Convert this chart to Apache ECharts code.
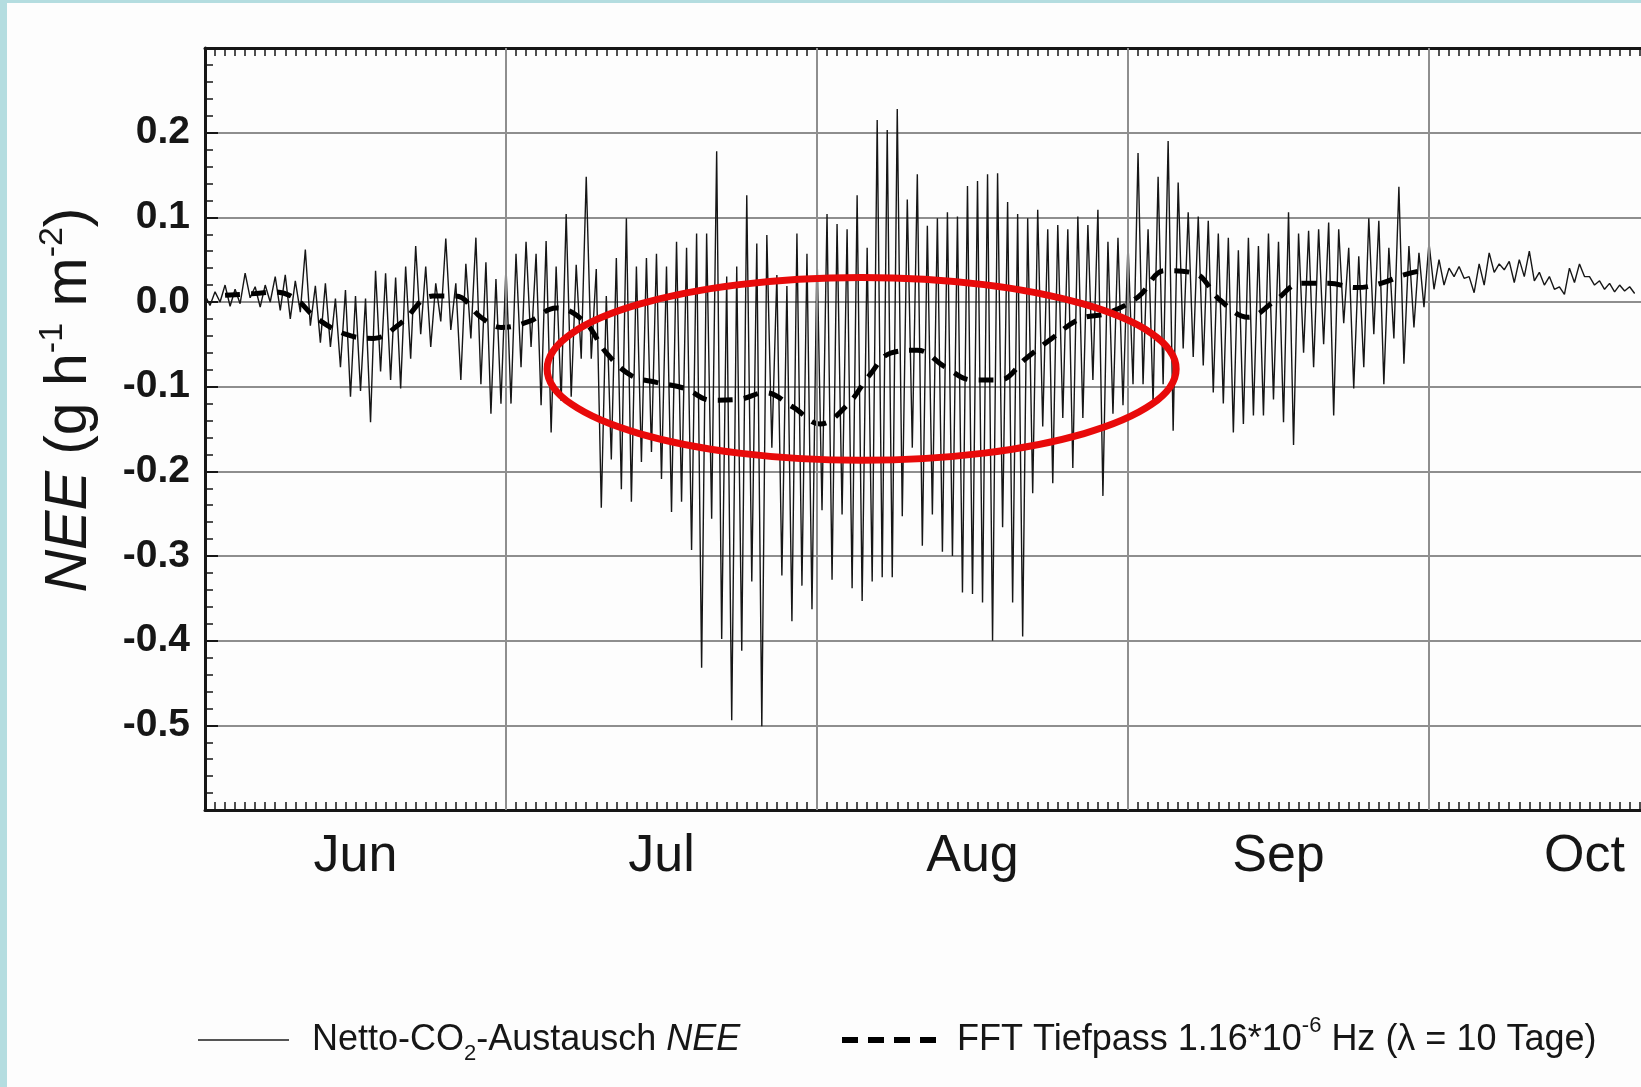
<!DOCTYPE html>
<html><head><meta charset="utf-8">
<script src="https://cdn.jsdelivr.net/npm/echarts@6/dist/echarts.min.js"></script>
<style>
html,body{margin:0;padding:0;width:1641px;height:1087px;overflow:hidden;background:#b4dde0;}
#chart{position:absolute;left:7px;top:3px;width:1634px;height:1084px;background:#fdfdfd;}
</style></head><body><div id="chart"></div>
<script>
// ---- axis categories / tick labels ----
const months = ['Jun', 'Jul', 'Aug', 'Sep', 'Oct'];
const monthStartDays = [0, 30, 61, 92, 122, 153];          // days since 1 June
const yTickValues = [0.2, 0.1, 0.0, -0.1, -0.2, -0.3, -0.4, -0.5];
const yTickLabels = ['0.2', '0.1', '0.0', '-0.1', '-0.2', '-0.3', '-0.4', '-0.5'];

// ---- NEE (g h-1 m-2): nightly maximum (start of day) and midday minimum, day 0 = 1 June ----
const neeNight = [
  0.008, 0.012, 0.020, 0.015, 0.034, 0.018, 0.020, 0.030, 0.032, 0.025,
  0.062, 0.019, 0.022, 0.004, 0.014, 0.007, 0.004, 0.037, 0.034, 0.029,
  0.042, 0.066, 0.042, 0.022, 0.075, 0.022, 0.045, 0.076, 0.047, 0.027,
  0.042, 0.057, 0.071, 0.057, 0.072, 0.042, 0.104, 0.044, 0.148, 0.039,
  0.007, 0.052, 0.099, 0.042, 0.052, 0.057, 0.042, 0.071, 0.064, 0.081,
  0.081, 0.178, 0.030, 0.042, 0.126, 0.069, 0.079, 0.032, 0.019, 0.081,
  0.057, 0.060, 0.104, 0.092, 0.086, 0.126, 0.064, 0.215, 0.203, 0.228,
  0.121, 0.151, 0.090, 0.099, 0.106, 0.101, 0.137, 0.143, 0.151, 0.152,
  0.118, 0.104, 0.099, 0.109, 0.086, 0.091, 0.086, 0.101, 0.091, 0.109,
  0.071, 0.076, 0.069, 0.176, 0.086, 0.148, 0.190, 0.141, 0.106, 0.101,
  0.096, 0.081, 0.076, 0.061, 0.076, 0.066, 0.081, 0.071, 0.106, 0.081,
  0.084, 0.086, 0.094, 0.086, 0.064, 0.054, 0.099, 0.096, 0.064, 0.136,
  0.066, 0.058, 0.070, 0.050, 0.040, 0.042, 0.030, 0.045, 0.058, 0.045,
  0.048, 0.050, 0.060, 0.035, 0.030, 0.018, 0.040, 0.045, 0.030, 0.025,
  0.022, 0.020, 0.018
];
const neeDay = [
  -0.004, 0.000, -0.005, -0.002, 0.005, -0.006, 0.000, -0.010, -0.020, -0.012,
  -0.028, -0.048, -0.053, -0.077, -0.112, -0.105, -0.142, -0.082, -0.092, -0.102,
  -0.067, -0.038, -0.053, -0.023, -0.033, -0.092, -0.043, -0.097, -0.132, -0.120,
  -0.120, -0.077, -0.053, -0.122, -0.154, -0.117, -0.112, -0.067, -0.067, -0.243,
  -0.186, -0.221, -0.236, -0.189, -0.177, -0.209, -0.248, -0.236, -0.293, -0.432,
  -0.256, -0.398, -0.494, -0.412, -0.330, -0.501, -0.172, -0.323, -0.377, -0.335,
  -0.363, -0.246, -0.328, -0.251, -0.338, -0.353, -0.330, -0.325, -0.325, -0.253,
  -0.172, -0.288, -0.251, -0.295, -0.300, -0.343, -0.345, -0.355, -0.400, -0.266,
  -0.355, -0.395, -0.226, -0.147, -0.214, -0.137, -0.196, -0.137, -0.092, -0.229,
  -0.132, -0.122, -0.097, -0.097, -0.120, -0.097, -0.152, -0.055, -0.065, -0.075,
  -0.107, -0.120, -0.154, -0.144, -0.134, -0.134, -0.115, -0.142, -0.169, -0.060,
  -0.077, -0.050, -0.134, -0.025, -0.102, -0.077, -0.038, -0.097, -0.043, -0.073,
  -0.030, -0.006, 0.015, 0.020, 0.030, 0.028, 0.011, 0.020, 0.035, 0.038,
  0.023, 0.030, 0.025, 0.020, 0.015, 0.009, 0.023, 0.030, 0.020, 0.015,
  0.012, 0.013, 0.010
];

// ---- FFT low-pass (lambda = 10 days) ----
const fftDays = [2, 5, 7, 9, 11, 14, 16.8, 19.5, 22.7, 25, 27.5, 29.5, 32.3, 35, 37.8, 40, 42.5, 45, 47.8,
  50.5, 53.2, 55.8, 58.6, 61.3, 64, 66.2, 68.4, 71, 73.8, 76.5, 79.2, 81.8, 84.4, 87.2, 90, 93, 95.7,
  98.6, 101.2, 104, 106.5, 109.3, 112, 114.8, 117.2, 119.5, 122];
const fftValues = [0.008, 0.010, 0.012, 0.004, -0.018, -0.038, -0.043, -0.025, 0.007, 0.007, -0.018, -0.030,
  -0.023, -0.007, -0.023, -0.060, -0.087, -0.095, -0.102, -0.116, -0.115, -0.107, -0.124, -0.144, -0.122,
  -0.087, -0.060, -0.057, -0.077, -0.092, -0.092, -0.067, -0.043, -0.020, -0.013, 0.006, 0.037, 0.034,
  0.002, -0.018, 0.000, 0.022, 0.022, 0.017, 0.022, 0.032, 0.039];

// ---- red annotation ellipse (data coordinates) ----
const ellipseCenter = [65.45, -0.079];
const ellipseRadius = [31.35, 0.108];

// ---- build tables ----
const neeData = [];
for (let d = 0; d < neeNight.length; d++) {
  neeData.push([d, neeNight[d]]);
  neeData.push([d + 0.5, neeDay[d]]);
}
const fftData = fftDays.map((d, i) => [d, fftValues[i]]);
const monthMids = months.map((m, i) => (monthStartDays[i] + monthStartDays[i + 1]) / 2);
const innerMonthStarts = monthStartDays.slice(1, -1);

const NAME1 = 'Netto-CO2-Austausch NEE';
const NAME2 = 'FFT Tiefpass 1.16*10-6 Hz (λ = 10 Tage)';
const FONT = 'Liberation Sans, Arial, sans-serif';
const INK = '#161616';
const GRID = '#8e8e8e';
const HIDDEN_SYMBOL = {color: 'rgba(0,0,0,0)', borderColor: 'rgba(0,0,0,0)', borderWidth: 0, opacity: 0};

const chart = echarts.init(document.getElementById('chart'), null, {renderer: 'canvas'});

const commonX = {type: 'value', min: 0, max: 153, gridIndex: 0};

const option = {
  animation: false,
  backgroundColor: '#fdfdfd',
  textStyle: {fontFamily: FONT},
  grid: {left: 198, top: 45, right: -99, bottom: 277, containLabel: false, outerBoundsMode: 'none'},
  xAxis: [
    Object.assign({}, commonX, {
      position: 'bottom',
      axisLine: {show: true, onZero: false, lineStyle: {color: INK, width: 3}},
      axisTick: {show: true, inside: true, length: 15, customValues: innerMonthStarts, lineStyle: {color: INK, width: 2}},
      axisLabel: {show: true, customValues: monthMids, margin: 21, fontSize: 52, color: INK, fontFamily: FONT,
        formatter: v => { const i = monthMids.findIndex(m => Math.abs(m - v) < 1e-6); return i >= 0 ? months[i] : ''; }},
      splitLine: {show: false}
    }),
    Object.assign({}, commonX, {
      position: 'bottom', interval: 1,
      axisLine: {show: false, onZero: false},
      axisTick: {show: true, inside: true, length: 8, lineStyle: {color: INK, width: 1.5}},
      axisLabel: {show: false}, splitLine: {show: false}
    }),
    Object.assign({}, commonX, {
      position: 'top', interval: 1,
      axisLine: {show: true, onZero: false, lineStyle: {color: INK, width: 3}},
      axisTick: {show: true, inside: true, length: 8, lineStyle: {color: INK, width: 1.5}},
      axisLabel: {show: false}, splitLine: {show: false}
    })
  ],
  yAxis: [{
    type: 'value', min: -0.6, max: 0.3, interval: 0.1, position: 'left',
    axisLine: {show: true, onZero: false, lineStyle: {color: INK, width: 3}},
    axisTick: {show: true, inside: true, length: 13, lineStyle: {color: INK, width: 2}},
    minorTick: {show: true, splitNumber: 5, length: 8, lineStyle: {color: INK, width: 1.5}},
    axisLabel: {margin: 15, fontSize: 39, fontWeight: 'bold', color: INK, fontFamily: FONT,
      formatter: v => { const i = yTickValues.findIndex(t => Math.abs(t - v) < 1e-6); return i >= 0 ? yTickLabels[i] : ''; }},
    splitLine: {show: true, lineStyle: {color: GRID, width: 2}},
    name: '{it|NEE} (g h{sup|-1} m{sup|-2})',
    nameLocation: 'middle', nameGap: 101, nameRotate: 90,
    nameTextStyle: {
      fontSize: 59, color: INK, fontFamily: FONT, lineHeight: 68, padding: [0, 0, 0, 58],
      rich: {
        it: {fontStyle: 'italic', fontSize: 59, color: INK, fontFamily: FONT, lineHeight: 68},
        sup: {fontSize: 34, color: INK, fontFamily: FONT, lineHeight: 32, verticalAlign: 'top'}
      }
    }
  }],
  legend: [
    {
      data: [NAME1], left: 185, top: 1007, orient: 'horizontal',
      itemWidth: 91, itemHeight: 20, selectedMode: false,
      itemStyle: HIDDEN_SYMBOL,
      lineStyle: {color: '#555', width: 2, type: 'solid'},
      formatter: () => 'Netto-CO{sub|2}-Austausch {it|NEE}',
      textStyle: {fontSize: 36, color: INK, fontFamily: FONT, lineHeight: 50, padding: [0, 0, 0, 18],
        rich: {
          sub: {fontSize: 22, color: INK, fontFamily: FONT, lineHeight: 20, verticalAlign: 'bottom'},
          it: {fontSize: 36, color: INK, fontFamily: FONT, fontStyle: 'italic', lineHeight: 50}
        }}
    },
    {
      data: [NAME2], left: 827, top: 1007, orient: 'horizontal',
      itemWidth: 95, itemHeight: 20, selectedMode: false,
      itemStyle: HIDDEN_SYMBOL,
      lineStyle: {color: '#000', width: 6, type: [16, 10], cap: 'butt'},
      formatter: () => 'FFT Tiefpass 1.16*10{sup|-6} Hz (λ = 10 Tage)',
      textStyle: {fontSize: 36, color: INK, fontFamily: FONT, lineHeight: 50, padding: [0, 0, 0, 15],
        rich: {
          sup: {fontSize: 22, color: INK, fontFamily: FONT, lineHeight: 20, verticalAlign: 'top'}
        }}
    }
  ],
  series: [
    {
      name: 'monthGrid', type: 'line', data: [], z: 1, silent: true,
      markLine: {silent: true, symbol: ['none', 'none'], label: {show: false}, animation: false,
        lineStyle: {color: GRID, width: 2, type: 'solid'},
        data: innerMonthStarts.map(d => ({xAxis: d}))}
    },
    {
      name: NAME1, type: 'line', xAxisIndex: 0, yAxisIndex: 0, data: neeData, z: 3,
      symbol: 'none', showSymbol: false, sampling: null,
      lineStyle: {color: INK, width: 1.4}, itemStyle: {color: INK}
    },
    {
      name: NAME2, type: 'line', xAxisIndex: 0, yAxisIndex: 0, data: fftData, z: 4,
      symbol: 'none', showSymbol: false, smooth: 0.4,
      lineStyle: {color: '#000', width: 5, type: [15, 11], cap: 'butt'}, itemStyle: {color: '#000'}
    }
  ]
};
chart.setOption(option);

const c = chart.convertToPixel({seriesIndex: 1}, ellipseCenter);
const e = chart.convertToPixel({seriesIndex: 1}, [ellipseCenter[0] + ellipseRadius[0], ellipseCenter[1] + ellipseRadius[1]]);
chart.setOption({
  graphic: [{
    type: 'ellipse', silent: true, z: 100,
    shape: {cx: c[0], cy: c[1], rx: e[0] - c[0], ry: c[1] - e[1]},
    style: {fill: null, stroke: '#e80a0a', lineWidth: 7}
  }]
});
</script></body></html>
